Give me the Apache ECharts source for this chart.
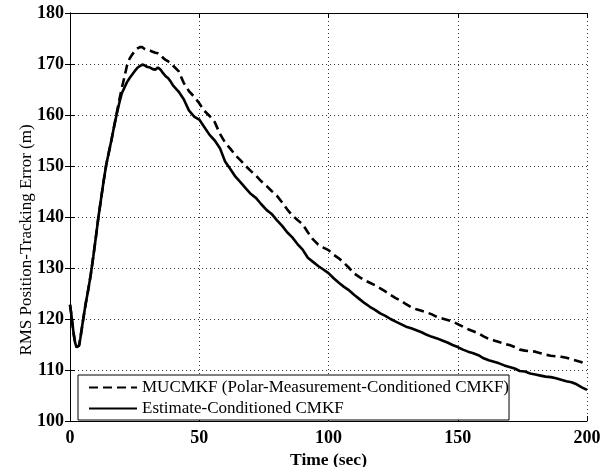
<!DOCTYPE html>
<html>
<head>
<meta charset="utf-8">
<script src="https://cdn.jsdelivr.net/npm/echarts@6/dist/echarts.min.js"></script>
<style>html,body{margin:0;padding:0;background:#fff}#c{width:610px;height:467px}</style>
</head>
<body>
<div id="c"></div>
<script>
var xTicks = [0, 50, 100, 150, 200];
var yTicks = [100, 110, 120, 130, 140, 150, 160, 170, 180];
var seriesNames = ['MUCMKF (Polar-Measurement-Conditioned CMKF)', 'Estimate-Conditioned CMKF'];

var time = [0,0.5,1,1.5,2,2.5,3,3.5,4,5,6,7,8,9,10,11,12,13,14,15,16,17,18,19,20,21,22,23,24,25,26,27,28,29,30,31,32,33,34,35,36,37,38,39,40,
  42,44,46,48,50,52,54,56,58,60,62,64,66,68,70,72,74,76,78,80,82,84,86,88,90,92,94,96,98,100,
  102,104,106,108,110,112,114,116,118,120,122,124,126,128,130,132,134,136,138,140,142,144,146,148,150,
  152,154,156,158,160,162,164,166,168,170,172,174,176,178,180,182,184,186,188,190,192,194,196,198,200];

var mucmkf = [122.8,121.0,118.8,116.8,115.3,114.5,114.3,114.8,116.2,119.6,122.8,125.6,128.6,132.2,136.0,140.0,143.5,147.0,150.2,152.6,155.0,157.6,160.2,162.8,165.2,167.3,169.6,171.0,171.8,172.5,173.0,173.3,173.3,172.9,172.7,172.6,172.4,172.2,172.1,171.8,171.2,170.8,170.5,170.2,169.6,
  168.6,166.3,164.7,163.6,162.3,160.8,159.8,158.6,156.3,154.6,153.4,152.1,151.1,150.0,149.0,148.1,147.0,146.1,145.1,144.2,142.9,141.5,140.3,139.4,138.6,137.0,135.6,134.6,134.0,133.5,
  132.6,131.9,131.0,130.0,128.9,128.2,127.6,127.1,126.6,126.0,125.4,124.7,124.1,123.6,122.9,122.3,121.9,121.6,121.3,120.9,120.4,120.1,119.8,119.5,119.0,
  118.5,118.0,117.6,117.2,116.6,116.1,115.8,115.5,115.1,114.9,114.5,114.0,113.8,113.7,113.6,113.3,113.0,112.8,112.7,112.6,112.4,112.1,111.8,111.5,111.0];

var estCond = [122.8,121.0,118.8,116.8,115.3,114.5,114.3,114.8,116.2,119.6,122.8,125.6,128.6,132.2,136.0,140.0,143.5,147.0,150.2,152.6,155.0,157.6,160.0,162.2,164.2,165.3,166.4,167.2,167.9,168.6,169.2,169.6,169.9,169.7,169.4,169.3,169.0,168.9,169.3,168.9,168.2,167.6,167.2,166.5,165.7,
  164.6,163.1,160.9,159.7,159.1,157.6,156.1,155.0,153.5,150.9,149.4,147.9,146.8,145.6,144.5,143.7,142.5,141.4,140.6,139.4,138.3,137.0,136.0,134.7,133.6,132.0,131.2,130.4,129.7,129.0,
  128.0,127.1,126.3,125.6,124.7,123.9,123.1,122.4,121.8,121.1,120.6,120.0,119.5,119.0,118.5,118.2,117.8,117.4,116.9,116.5,116.2,115.8,115.4,114.9,114.5,
  114.0,113.6,113.3,112.9,112.3,111.9,111.6,111.3,110.9,110.6,110.3,109.8,109.7,109.3,109.1,108.9,108.7,108.6,108.4,108.1,107.8,107.6,107.2,106.6,106.1];

function pairs(t, v) { return t.map(function (x, i) { return [x, v[i]]; }); }

var serif = '"Liberation Serif", "DejaVu Serif", serif';
var chart = echarts.init(document.getElementById('c'), null, {renderer: 'canvas'});
var axisLine = {show: true, lineStyle: {color: '#000', width: 1}};
var axisTick = {show: true, inside: true, length: 5, lineStyle: {color: '#000'}};
chart.setOption({
  animation: false,
  backgroundColor: '#fff',
  color: ['#000', '#000'],
  grid: {left: 70, right: 23, top: 13, bottom: 46, show: false, containLabel: false, outerBoundsMode: 'none'},
  legend: {
    data: seriesNames,
    orient: 'vertical',
    left: 78, top: 375,
    backgroundColor: '#fff',
    borderColor: '#000', borderWidth: 1, borderRadius: 0,
    padding: [4, 0, 3, 10],
    itemGap: 4,
    itemWidth: 48, itemHeight: 14,
    itemStyle: {opacity: 0},
    textStyle: {fontFamily: serif, fontSize: 17, color: '#000'}
  },
  xAxis: [{
    type: 'value', min: 0, max: 200, interval: 50,
    axisLine: axisLine, axisTick: axisTick,
    axisLabel: {fontFamily: serif, fontSize: 18, fontWeight: 'bold', color: '#000', margin: 8,
      formatter: function (v) { return xTicks.indexOf(v) >= 0 ? String(v) : ''; }},
    splitLine: {show: true, lineStyle: {color: '#333', type: [1, 3], width: 1}},
    name: 'Time (sec)', nameLocation: 'middle', nameGap: 28,
    nameTextStyle: {fontFamily: serif, fontSize: 17.5, fontWeight: 'bold', color: '#000'}
  }, {
    type: 'value', min: 0, max: 200, interval: 50, position: 'top',
    axisLine: axisLine, axisTick: axisTick,
    axisLabel: {show: false}, splitLine: {show: false}
  }],
  yAxis: [{
    type: 'value', min: 100, max: 180, interval: 10,
    axisLine: axisLine, axisTick: axisTick,
    axisLabel: {fontFamily: serif, fontSize: 18, fontWeight: 'bold', color: '#000', margin: 6,
      formatter: function (v) { return yTicks.indexOf(v) >= 0 ? String(v) : ''; }},
    splitLine: {show: true, lineStyle: {color: '#333', type: [1, 3], width: 1}},
    name: 'RMS Position-Tracking Error (m)', nameLocation: 'middle', nameGap: 35, nameRotate: 90,
    nameMoveOverlap: false,
    nameTextStyle: {fontFamily: serif, fontSize: 17, color: '#000', padding: [0, 46, 0, 0]}
  }, {
    type: 'value', min: 100, max: 180, interval: 10, position: 'right',
    axisLine: axisLine, axisTick: axisTick,
    axisLabel: {show: false}, splitLine: {show: false}
  }],
  series: [{
    name: seriesNames[0], type: 'line', data: pairs(time, mucmkf),
    symbol: 'none', showSymbol: false, z: 3,
    itemStyle: {color: '#000'},
    lineStyle: {color: '#000', width: 2.6, type: [9, 5]}
  }, {
    name: seriesNames[1], type: 'line', data: pairs(time, estCond),
    symbol: 'none', showSymbol: false, z: 4,
    itemStyle: {color: '#000'},
    lineStyle: {color: '#000', width: 2.6, type: 'solid'}
  }]
});
</script>
</body>
</html>
